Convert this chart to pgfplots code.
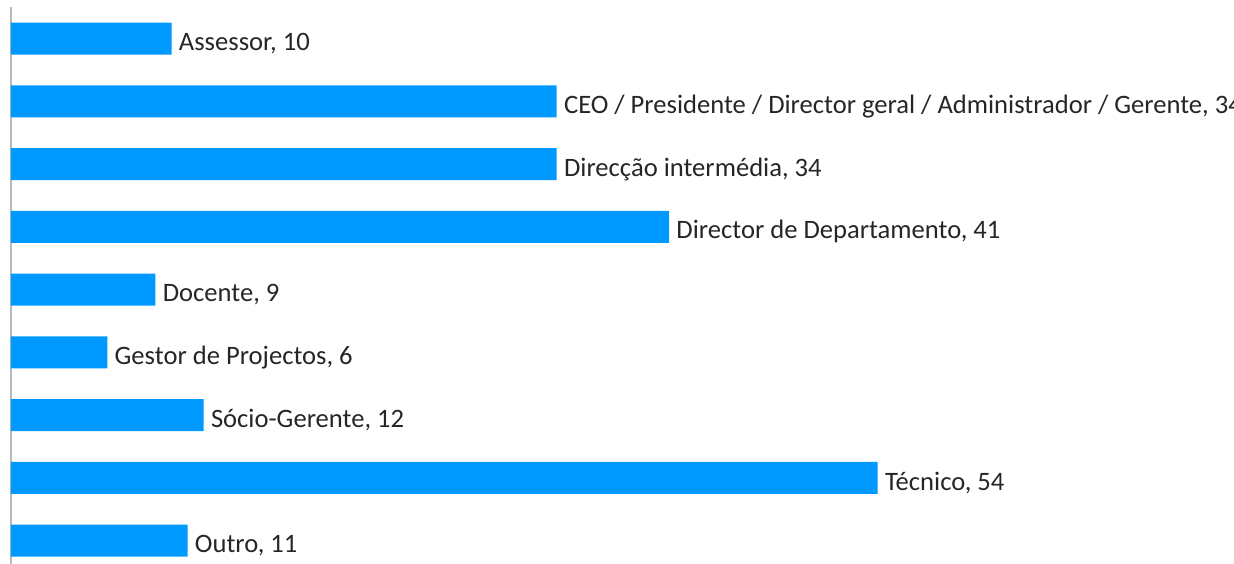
\documentclass[border=0pt]{standalone}
\usepackage{pgfplots}
\usepackage{pgfplotstable}
\pgfplotsset{compat=1.18}
\usepackage{fontspec}
\setmainfont{Carlito}
\definecolor{barblue}{HTML}{0099FF}

\pgfplotstableread[col sep=semicolon]{
val;pos;label
10;0;Assessor, 10
34;1;CEO / Presidente / Director geral / Administrador / Gerente, 34
34;2;Direcção intermédia, 34
41;3;Director de Departamento, 41
9;4;Docente, 9
6;5;Gestor de Projectos, 6
12;6;Sócio-Gerente, 12
54;7;Técnico, 54
11;8;Outro, 11
}\rolestable

\begin{document}
\begin{tikzpicture}
  \begin{axis}[
    at={(5.5pt,-286pt)}, anchor=south west,
    scale only axis,
    width=611.5pt, height=282.4pt,
    xmin=0, xmax=76.2,
    ymin=-0.5, ymax=8.5,
    y dir=reverse,
    axis x line=none,
    axis y line*=left,
    y axis line style={draw=gray!55, line width=1pt, -},
    xtick=\empty, ytick=\empty,
    clip=false,
    xbar, bar width=16pt,
    point meta=explicit symbolic,
    nodes near coords={\pgfplotspointmeta},
    every node near coord/.append style={anchor=west, inner sep=0pt,
      xshift=3.5pt, yshift=-2.5pt, font=\fontsize{13.3}{15}\selectfont, text=black!85},
  ]
    \addplot[draw=none, fill=barblue] table[x=val, y=pos, meta=label] {\rolestable};
  \end{axis}
  \pgfresetboundingbox
  \useasboundingbox (0pt,0pt) rectangle (617pt,-281.5pt);
\end{tikzpicture}
\end{document}
